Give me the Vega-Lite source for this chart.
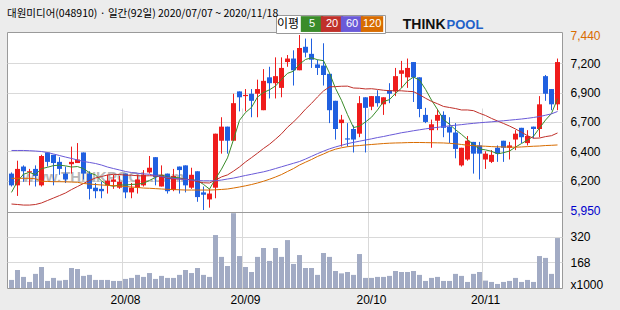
{
"$schema": "https://vega.github.io/schema/vega-lite/v6.json",
"width": 555, "height": 256,
"autosize": "none",
"padding": {"left": 7, "top": 32, "right": 58, "bottom": 22},
"background": "#ececec",
"config": {
  "view": {"stroke": "#9a9a9a", "fill": "#ffffff"},
  "axis": {"labelFont": "Liberation Sans", "labelFontSize": 12, "labelColor": "#000000", "domain": false, "ticks": false, "gridColor": "#d9d9d9", "titleFont": "Liberation Sans", "labelOverlap": false, "labelFlush": false}
},
"title": {"text": "대원미디어(048910) · 일간(92일) 2020/07/07 ~ 2020/11/18", "anchor": "start", "frame": "group", "font": "Noto Sans CJK KR", "fontSize": 10.5, "fontWeight": "normal", "color": "#000000", "baseline": "alphabetic", "offset": 5, "dy": 18},
"data": {"values": [
{"d":"2020-07-07","o":6260,"h":6270,"l":6150,"c":6160,"v":63,"m5":6100,"m20":6001,"m60":6457,"m120":6220},
{"d":"2020-07-08","o":6160,"h":6370,"l":6070,"c":6300,"v":122,"m5":6195,"m20":5997,"m60":6457,"m120":6220},
{"d":"2020-07-09","o":6320,"h":6330,"l":6190,"c":6280,"v":81,"m5":6255,"m20":5992,"m60":6457,"m120":6220},
{"d":"2020-07-10","o":6270,"h":6300,"l":6160,"c":6280,"v":51,"m5":6270,"m20":5992,"m60":6455,"m120":6220},
{"d":"2020-07-13","o":6300,"h":6330,"l":6150,"c":6240,"v":99,"m5":6252,"m20":5997,"m60":6452,"m120":6216},
{"d":"2020-07-14","o":6160,"h":6420,"l":6150,"c":6410,"v":140,"m5":6302,"m20":6010,"m60":6448,"m120":6195},
{"d":"2020-07-15","o":6440,"h":6440,"l":6320,"c":6360,"v":57,"m5":6314,"m20":6031,"m60":6440,"m120":6193},
{"d":"2020-07-16","o":6420,"h":6420,"l":6160,"c":6350,"v":75,"m5":6328,"m20":6052,"m60":6427,"m120":6191},
{"d":"2020-07-17","o":6360,"h":6400,"l":6250,"c":6300,"v":59,"m5":6332,"m20":6073,"m60":6414,"m120":6191},
{"d":"2020-07-20","o":6260,"h":6320,"l":6180,"c":6210,"v":63,"m5":6326,"m20":6095,"m60":6401,"m120":6190},
{"d":"2020-07-21","o":6340,"h":6490,"l":6260,"c":6360,"v":134,"m5":6316,"m20":6124,"m60":6389,"m120":6188},
{"d":"2020-07-22","o":6350,"h":6520,"l":6350,"c":6380,"v":128,"m5":6320,"m20":6150,"m60":6376,"m120":6186},
{"d":"2020-07-23","o":6440,"h":6440,"l":6210,"c":6260,"v":87,"m5":6302,"m20":6176,"m60":6363,"m120":6176},
{"d":"2020-07-24","o":6260,"h":6280,"l":6040,"c":6130,"v":93,"m5":6268,"m20":6201,"m60":6355,"m120":6171},
{"d":"2020-07-27","o":6140,"h":6180,"l":6050,"c":6110,"v":63,"m5":6248,"m20":6223,"m60":6346,"m120":6167},
{"d":"2020-07-28","o":6130,"h":6190,"l":6050,"c":6110,"v":63,"m5":6198,"m20":6235,"m60":6333,"m120":6163},
{"d":"2020-07-29","o":6160,"h":6250,"l":6090,"c":6200,"v":63,"m5":6162,"m20":6248,"m60":6316,"m120":6160},
{"d":"2020-07-30","o":6190,"h":6250,"l":6130,"c":6210,"v":57,"m5":6152,"m20":6254,"m60":6303,"m120":6158},
{"d":"2020-07-31","o":6140,"h":6240,"l":6130,"c":6190,"v":57,"m5":6164,"m20":6252,"m60":6291,"m120":6154},
{"d":"2020-08-03","o":6260,"h":6260,"l":6050,"c":6100,"v":69,"m5":6162,"m20":6247,"m60":6278,"m120":6150},
{"d":"2020-08-04","o":6100,"h":6180,"l":6050,"c":6140,"v":75,"m5":6168,"m20":6246,"m60":6269,"m120":6146},
{"d":"2020-08-05","o":6140,"h":6250,"l":6090,"c":6210,"v":93,"m5":6170,"m20":6242,"m60":6263,"m120":6142},
{"d":"2020-08-06","o":6160,"h":6290,"l":6150,"c":6250,"v":81,"m5":6178,"m20":6240,"m60":6258,"m120":6137},
{"d":"2020-08-07","o":6270,"h":6410,"l":6260,"c":6310,"v":104,"m5":6202,"m20":6242,"m60":6254,"m120":6135},
{"d":"2020-08-10","o":6400,"h":6400,"l":6160,"c":6230,"v":69,"m5":6228,"m20":6241,"m60":6244,"m120":6132},
{"d":"2020-08-11","o":6150,"h":6330,"l":6150,"c":6250,"v":87,"m5":6250,"m20":6233,"m60":6235,"m120":6129},
{"d":"2020-08-12","o":6260,"h":6260,"l":6090,"c":6110,"v":75,"m5":6230,"m20":6221,"m60":6227,"m120":6126},
{"d":"2020-08-13","o":6120,"h":6300,"l":6110,"c":6240,"v":75,"m5":6228,"m20":6215,"m60":6220,"m120":6124},
{"d":"2020-08-14","o":6320,"h":6320,"l":6090,"c":6290,"v":93,"m5":6224,"m20":6215,"m60":6214,"m120":6122},
{"d":"2020-08-18","o":6330,"h":6330,"l":6100,"c":6160,"v":122,"m5":6210,"m20":6212,"m60":6210,"m120":6120},
{"d":"2020-08-19","o":6140,"h":6310,"l":6130,"c":6250,"v":104,"m5":6210,"m20":6207,"m60":6205,"m120":6120},
{"d":"2020-08-20","o":6280,"h":6280,"l":6020,"c":6060,"v":134,"m5":6200,"m20":6191,"m60":6201,"m120":6120},
{"d":"2020-08-21","o":6100,"h":6150,"l":5950,"c":6080,"v":93,"m5":6168,"m20":6182,"m60":6199,"m120":6120},
{"d":"2020-08-24","o":6040,"h":6130,"l":5970,"c":6090,"v":81,"m5":6128,"m20":6180,"m60":6199,"m120":6120},
{"d":"2020-08-25","o":6140,"h":6600,"l":6050,"c":6600,"v":330,"m5":6216,"m20":6204,"m60":6199,"m120":6122},
{"d":"2020-08-26","o":6540,"h":6740,"l":6430,"c":6660,"v":200,"m5":6298,"m20":6232,"m60":6205,"m120":6125},
{"d":"2020-08-27","o":6660,"h":6660,"l":6430,"c":6540,"v":146,"m5":6394,"m20":6249,"m60":6214,"m120":6129},
{"d":"2020-08-28","o":6540,"h":6940,"l":6540,"c":6860,"v":460,"m5":6550,"m20":6281,"m60":6222,"m120":6137},
{"d":"2020-08-31","o":6960,"h":6960,"l":6790,"c":6910,"v":205,"m5":6714,"m20":6317,"m60":6233,"m120":6146},
{"d":"2020-09-01","o":6920,"h":6980,"l":6790,"c":6930,"v":140,"m5":6780,"m20":6359,"m60":6244,"m120":6156},
{"d":"2020-09-02","o":6940,"h":6980,"l":6740,"c":6880,"v":110,"m5":6824,"m20":6396,"m60":6254,"m120":6167},
{"d":"2020-09-03","o":6940,"h":7060,"l":6740,"c":6980,"v":200,"m5":6912,"m20":6434,"m60":6265,"m120":6180},
{"d":"2020-09-04","o":6800,"h":7150,"l":6800,"c":7050,"v":253,"m5":6950,"m20":6474,"m60":6275,"m120":6195},
{"d":"2020-09-07","o":7080,"h":7170,"l":6900,"c":7030,"v":176,"m5":6974,"m20":6510,"m60":6288,"m120":6212},
{"d":"2020-09-08","o":7030,"h":7250,"l":6900,"c":7090,"v":253,"m5":7006,"m20":6553,"m60":6303,"m120":6231},
{"d":"2020-09-09","o":6990,"h":7250,"l":6910,"c":7160,"v":200,"m5":7062,"m20":6599,"m60":6318,"m120":6252},
{"d":"2020-09-10","o":7210,"h":7270,"l":7170,"c":7240,"v":300,"m5":7114,"m20":6655,"m60":6333,"m120":6278},
{"d":"2020-09-11","o":7240,"h":7310,"l":7010,"c":7140,"v":158,"m5":7132,"m20":6700,"m60":6348,"m120":6303},
{"d":"2020-09-14","o":7140,"h":7440,"l":7140,"c":7330,"v":211,"m5":7192,"m20":6752,"m60":6363,"m120":6333},
{"d":"2020-09-15","o":7340,"h":7410,"l":7250,"c":7290,"v":134,"m5":7232,"m20":6809,"m60":6384,"m120":6357},
{"d":"2020-09-16","o":7280,"h":7410,"l":7160,"c":7230,"v":134,"m5":7246,"m20":6858,"m60":6407,"m120":6380},
{"d":"2020-09-17","o":7190,"h":7230,"l":7100,"c":7160,"v":93,"m5":7230,"m20":6913,"m60":6430,"m120":6406},
{"d":"2020-09-18","o":7180,"h":7370,"l":7010,"c":7100,"v":223,"m5":7222,"m20":6964,"m60":6451,"m120":6427},
{"d":"2020-09-21","o":7110,"h":7110,"l":6690,"c":6800,"v":200,"m5":7116,"m20":6999,"m60":6471,"m120":6450},
{"d":"2020-09-22","o":6880,"h":6880,"l":6550,"c":6640,"v":116,"m5":6986,"m20":7001,"m60":6487,"m120":6468},
{"d":"2020-09-23","o":6690,"h":6760,"l":6490,"c":6720,"v":102,"m5":6884,"m20":7004,"m60":6501,"m120":6480},
{"d":"2020-09-24","o":6560,"h":6690,"l":6490,"c":6550,"v":110,"m5":6762,"m20":7005,"m60":6515,"m120":6489},
{"d":"2020-09-25","o":6640,"h":6670,"l":6440,"c":6550,"v":93,"m5":6652,"m20":6989,"m60":6526,"m120":6495},
{"d":"2020-09-28","o":6600,"h":6920,"l":6570,"c":6860,"v":217,"m5":6664,"m20":6987,"m60":6536,"m120":6499},
{"d":"2020-09-29","o":6910,"h":6910,"l":6440,"c":6820,"v":75,"m5":6700,"m20":6981,"m60":6546,"m120":6504},
{"d":"2020-10-05","o":6830,"h":6920,"l":6800,"c":6920,"v":75,"m5":6740,"m20":6983,"m60":6556,"m120":6508},
{"d":"2020-10-06","o":6920,"h":6970,"l":6830,"c":6860,"v":81,"m5":6802,"m20":6977,"m60":6567,"m120":6512},
{"d":"2020-10-07","o":6850,"h":6910,"l":6760,"c":6910,"v":81,"m5":6874,"m20":6970,"m60":6576,"m120":6516},
{"d":"2020-10-08","o":6970,"h":7030,"l":6860,"c":6940,"v":87,"m5":6890,"m20":6966,"m60":6587,"m120":6519},
{"d":"2020-10-12","o":6960,"h":7160,"l":6920,"c":7090,"v":116,"m5":6944,"m20":6966,"m60":6597,"m120":6521},
{"d":"2020-10-13","o":7110,"h":7220,"l":6990,"c":7140,"v":110,"m5":6988,"m20":6965,"m60":6608,"m120":6522},
{"d":"2020-10-14","o":7080,"h":7240,"l":6990,"c":7160,"v":110,"m5":7048,"m20":6961,"m60":6616,"m120":6524},
{"d":"2020-10-15","o":7210,"h":7210,"l":6870,"c":7080,"v":116,"m5":7082,"m20":6958,"m60":6625,"m120":6525},
{"d":"2020-10-16","o":7080,"h":7080,"l":6740,"c":6810,"v":93,"m5":7056,"m20":6932,"m60":6633,"m120":6525},
{"d":"2020-10-19","o":6760,"h":6820,"l":6690,"c":6700,"v":57,"m5":6978,"m20":6902,"m60":6641,"m120":6524},
{"d":"2020-10-20","o":6630,"h":6720,"l":6480,"c":6680,"v":75,"m5":6886,"m20":6875,"m60":6648,"m120":6523},
{"d":"2020-10-21","o":6710,"h":6810,"l":6630,"c":6760,"v":81,"m5":6806,"m20":6855,"m60":6654,"m120":6522},
{"d":"2020-10-22","o":6760,"h":6790,"l":6570,"c":6650,"v":57,"m5":6720,"m20":6832,"m60":6660,"m120":6521},
{"d":"2020-10-23","o":6660,"h":6740,"l":6520,"c":6610,"v":57,"m5":6680,"m20":6823,"m60":6667,"m120":6518},
{"d":"2020-10-26","o":6610,"h":6690,"l":6390,"c":6470,"v":99,"m5":6634,"m20":6814,"m60":6672,"m120":6514},
{"d":"2020-10-27","o":6330,"h":6480,"l":6320,"c":6480,"v":87,"m5":6594,"m20":6802,"m60":6677,"m120":6508},
{"d":"2020-10-28","o":6380,"h":6580,"l":6370,"c":6540,"v":51,"m5":6550,"m20":6802,"m60":6683,"m120":6502},
{"d":"2020-10-29","o":6530,"h":6530,"l":6260,"c":6430,"v":99,"m5":6506,"m20":6796,"m60":6688,"m120":6498},
{"d":"2020-10-30","o":6500,"h":6530,"l":6210,"c":6430,"v":110,"m5":6470,"m20":6774,"m60":6693,"m120":6495},
{"d":"2020-11-02","o":6380,"h":6450,"l":6300,"c":6430,"v":59,"m5":6462,"m20":6755,"m60":6697,"m120":6493},
{"d":"2020-11-03","o":6360,"h":6460,"l":6350,"c":6420,"v":51,"m5":6450,"m20":6730,"m60":6701,"m120":6490},
{"d":"2020-11-04","o":6480,"h":6500,"l":6360,"c":6430,"v":39,"m5":6428,"m20":6708,"m60":6706,"m120":6488},
{"d":"2020-11-05","o":6540,"h":6540,"l":6360,"c":6480,"v":51,"m5":6438,"m20":6687,"m60":6710,"m120":6487},
{"d":"2020-11-06","o":6480,"h":6530,"l":6380,"c":6500,"v":57,"m5":6452,"m20":6665,"m60":6715,"m120":6485},
{"d":"2020-11-09","o":6550,"h":6630,"l":6460,"c":6600,"v":75,"m5":6486,"m20":6640,"m60":6720,"m120":6485},
{"d":"2020-11-10","o":6650,"h":6650,"l":6520,"c":6570,"v":51,"m5":6516,"m20":6612,"m60":6725,"m120":6487},
{"d":"2020-11-11","o":6520,"h":6630,"l":6500,"c":6580,"v":63,"m5":6546,"m20":6583,"m60":6731,"m120":6490},
{"d":"2020-11-12","o":6660,"h":6660,"l":6560,"c":6640,"v":51,"m5":6578,"m20":6561,"m60":6738,"m120":6493},
{"d":"2020-11-13","o":6640,"h":6920,"l":6570,"c":6850,"v":205,"m5":6648,"m20":6563,"m60":6746,"m120":6495},
{"d":"2020-11-16","o":7090,"h":7100,"l":6880,"c":6940,"v":194,"m5":6716,"m20":6575,"m60":6757,"m120":6499},
{"d":"2020-11-17","o":6980,"h":6980,"l":6800,"c":6850,"v":99,"m5":6772,"m20":6583,"m60":6769,"m120":6501},
{"d":"2020-11-18","o":6850,"h":7240,"l":6800,"c":7210,"v":312,"m5":6898,"m20":6606,"m60":6789,"m120":6504}
]},
"encoding": {
  "x": {"field": "d", "type": "ordinal", "sort": null,
    "scale": {"type": "band", "paddingInner": 0, "paddingOuter": 0.25},
    "axis": {"values": ["2020-08-03","2020-09-01","2020-10-05","2020-11-02"], "labelExpr": "'20/' + substring(datum.value, 5, 7)", "bandPosition": 0, "grid": true, "labelAngle": 0, "labelPadding": 6,
      "title": "THINK", "titleX": 438, "titleY": -260, "titleAlign": "right", "titleAnchor": null, "titleBaseline": "alphabetic", "titleFontSize": 14, "titleFontWeight": "bold", "titleColor": "#111111"}}
},
"layer": [
  {"layer": [
    {"mark": {"type": "rule", "strokeWidth": 1},
     "encoding": {
       "y": {"field": "l", "type": "quantitative", "scale": {"domain": [5933, 7466], "range": [180, 0], "nice": false, "zero": false},
         "axis": {"orient": "right", "values": [7440,7200,6950,6700,6450,6200,5950],
           "labelExpr": "datum.value == 6950 ? '6,900' : datum.value == 6450 ? '6,400' : format(datum.value, ',')",
           "labelColor": {"condition": [{"test": "datum.value == 7440", "value": "#d96b00"}, {"test": "datum.value == 5950", "value": "#0000cc"}], "value": "#000000"},
           "grid": true,
           "gridOpacity": {"condition": {"test": "datum.value == 7440 || datum.value == 5950", "value": 0}, "value": 1},
           "labelPadding": 8,
           "title": "POOL", "titleX": -116, "titleY": -4, "titleAngle": 0, "titleAlign": "left", "titleBaseline": "alphabetic", "titleFontSize": 13, "titleFontWeight": "bold", "titleColor": "#1f62c9"}},
       "y2": {"field": "h"},
       "color": {"condition": {"test": "datum.c >= datum.o", "value": "#ef1c1c"}, "value": "#2060e0"}
     }},
    {"mark": {"type": "bar", "size": 5},
     "encoding": {
       "y": {"field": "o", "type": "quantitative", "scale": {"domain": [5933, 7466], "range": [180, 0], "nice": false, "zero": false}},
       "y2": {"field": "c"},
       "color": {"condition": {"test": "datum.c >= datum.o", "value": "#ef1c1c"}, "value": "#2060e0"}
     }},
    {"transform": [{"fold": ["m5","m20","m60","m120"], "as": ["ma","val"]}],
     "mark": {"type": "line", "strokeWidth": 1},
     "encoding": {
       "y": {"field": "val", "type": "quantitative", "scale": {"domain": [5933, 7466], "range": [180, 0], "nice": false, "zero": false}},
       "color": {"field": "ma", "type": "nominal",
         "scale": {"domain": ["m5","m20","m60","m120"], "range": ["#3a8c2a","#c0302a","#6a5ad8","#d86c00"]},
         "legend": {"orient": "none", "legendX": 269, "legendY": -17, "direction": "horizontal", "columns": 4, "gridAlign": "all",
           "title": "이평", "titleOrient": "left", "titleFont": "Noto Sans CJK KR", "titleFontSize": 12, "titleFontWeight": "normal", "titleColor": "#000000", "titlePadding": 4,
           "symbolType": "M-1.42,-1H1.42V1H-1.42Z", "symbolSize": 249, "symbolStrokeWidth": 0,
           "labelColor": "#ffffff", "labelFont": "Liberation Sans", "labelFontSize": 11, "labelAlign": "center", "labelOffset": -7.9,
           "columnPadding": -8, "padding": 1, "strokeColor": "#999999", "fillColor": "#ffffff",
           "labelExpr": "replace(datum.label, 'm', '')",
           "encode": {"symbols": {"update": {"fill": {"scale": "color", "field": "value"}, "strokeWidth": {"value": 0}}}}}}
     }}
  ]},
  {"mark": {"type": "bar", "size": 5, "color": "#a2abc4"},
   "encoding": {
     "y": {"field": "v", "type": "quantitative", "scale": {"domain": [15, 467], "range": [256, 180], "nice": false, "zero": false},
       "axis": {"orient": "right", "values": [467, 320, 168, 33], "labelExpr": "datum.value == 33 ? 'x1000' : datum.value == 467 ? '' : datum.label",
         "grid": true,
         "gridColor": {"condition": {"test": "datum.value == 467", "value": "#9a9a9a"}, "value": "#d9d9d9"},
         "gridOpacity": {"condition": {"test": "datum.value == 33", "value": 0}, "value": 1},
         "labelPadding": 8,
         "title": "www.THINKPOOL.com", "titleX": -540, "titleY": 149, "titleAngle": 0, "titleAlign": "left", "titleBaseline": "alphabetic", "titleFontSize": 15, "titleFontWeight": "bold", "titleColor": "#b8b8b8"}},
     "y2": {"datum": 15}
   }}
],
"resolve": {"scale": {"y": "independent"}}
}
